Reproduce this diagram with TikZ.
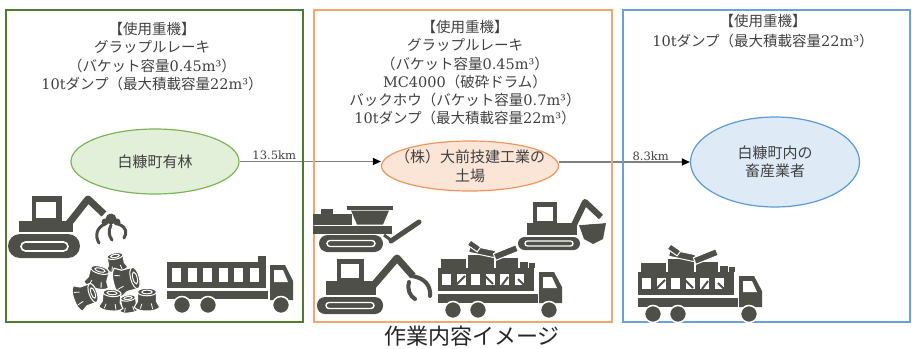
\documentclass[tikz,border=0pt]{standalone}
\usepackage{fontspec}
\setmainfont{DejaVu Serif}
\newfontfamily\jpfont{Noto Sans CJK JP}
\usetikzlibrary{shapes.geometric,arrows.meta}
\newcommand\jp[1]{{\jpfont #1}}

\definecolor{grnline}{HTML}{4F7A34}
\definecolor{orgline}{HTML}{F4A470}
\definecolor{bluline}{HTML}{6A9FD8}
\definecolor{grnfill}{HTML}{E2F0D9}
\definecolor{grnedge}{HTML}{7DB356}
\definecolor{orgfill}{HTML}{FBE5D6}
\definecolor{orgedge}{HTML}{F0955A}
\definecolor{blufill}{HTML}{DEEBF7}
\definecolor{bluedge}{HTML}{5B9BD5}
\definecolor{ic}{HTML}{4E4F48}
\definecolor{txt}{HTML}{404040}
\definecolor{arr}{HTML}{808080}

% one tree stump with flared roots: top face centred at (#1,#2), turned by #3, sized by #4
\newcommand\stump[4]{%
  \begin{scope}[shift={(#1,#2)}, rotate=#3, scale=#4]
    \path[fill=ic, draw=white, line width=1.1pt]
      (-1,0) -- (-1,1.0) -- (-1.35,1.6) .. controls (-1.1,1.9) and (-0.6,2.0) .. (0,2.0)
      .. controls (0.6,2.0) and (1.1,1.9) .. (1.35,1.6) -- (1,1.0) -- (1,0)
      .. controls (1,-0.22) and (0.55,-0.4) .. (0,-0.4)
      .. controls (-0.55,-0.4) and (-1,-0.22) .. (-1,0) -- cycle;
    \draw[white, line width=1pt] (0,0) ellipse (0.55 and 0.2);
    \draw[white, line width=1pt] (-1,0) .. controls (-1,0.22) and (-0.55,0.4) .. (0,0.4)
      .. controls (0.55,0.4) and (1,0.22) .. (1,0);
    \draw[white, line width=0.8pt] (-0.55,1.25) -- (-0.7,1.75) (0.45,1.2) -- (0.6,1.8);
  \end{scope}}

\tikzset{
  panel/.style={line width=1.5pt},
  boxtext/.style={align=center, inner sep=0pt, text=txt,
    font=\fontsize{14.5}{18.3}\selectfont},
  site/.style={ellipse, line width=1.2pt, inner sep=0pt},
  sitetext/.style={align=center, inner sep=0pt, text=txt,
    font=\jpfont\fontsize{15}{18.5}\selectfont},
  route/.style={draw=arr, line width=1.2pt,
    -{Triangle[length=8pt,width=7pt,color=black]}},
  dist/.style={text=txt, inner sep=1pt, font=\fontsize{11.5}{13}\selectfont},
  wheel/.style={fill=ic, draw=white, line width=1.5pt},
  % dump truck carrying debris, origin at top left of the load
  loadtruck/.pic={
    \fill[ic] (0,25) rectangle (96,48);
    \foreach \i in {0,...,5}
      \fill[white] ({4+14.5*\i},31) rectangle ({13+14.5*\i},42);
    \draw[ic, line width=2pt] (18,42) -- (27,33);
    \draw[ic, line width=2pt] (47,33) -- (55,41);
    \draw[ic, line width=2pt] (64,42) -- (70,34);
    \draw[ic, line width=2pt] (80,36) -- (86,42);
    \fill[ic] (3,16) rectangle (28,25);
    \fill[ic] (30,12) rectangle (56,25);
    \fill[ic] (58,15) rectangle (80,25);
    \fill[ic] (82,19) rectangle (90,25);
    \fill[ic] (91,20) rectangle (97,25);
    \fill[ic, draw=white, line width=1pt, rotate around={-12:(44,9)}] (31,5) rectangle (57,12);
    \fill[ic, draw=white, line width=1pt, rotate around={22:(68,10)}] (56,6) rectangle (80,13);
    \fill[ic, draw=white, line width=1pt, rotate around={-35:(36,3)}] (30,0) rectangle (42,6);
    \fill[ic] (0,51) rectangle (100,60);
    \fill[ic] (101,29) -- (116,29) -- (124,44) -- (124,60) -- (101,60) -- cycle;
    \fill[white] (105,34) -- (114,34) -- (119,45) -- (105,45) -- cycle;
    \path[wheel] (15,67) circle (8.5);
    \path[wheel] (40,67) circle (8.5);
    \path[wheel] (111,67) circle (8.5);
  }
}

\begin{document}
\begin{tikzpicture}[x=1pt,y=-1pt]
\useasboundingbox (0,0) rectangle (912,348);

% ---------- sites and routes ----------
\node[site, draw=grnedge, fill=grnfill, minimum width=168pt, minimum height=65pt] (g) at (155,161.5) {};
\node[site, draw=orgedge, fill=orgfill, minimum width=177pt, minimum height=50pt] (o) at (470,166) {};
\node[site, draw=bluedge, fill=blufill, minimum width=169pt, minimum height=90pt] (b) at (775,162) {};

\node[sitetext] (gt) at (g) {白糠町有林};
\node[sitetext] (ot) at (470,166) {（株）大前技建工業の\\土場};
\node[sitetext] (bt) at (b) {白糠町内の\\畜産業者};

\draw[route] (g.east) -- (o.west |- g.east) node[dist, pos=0.245, above] (d1) {13.5km};
\draw[route] (o.east |- b.west) -- (b.west) node[dist, pos=0.70, above] (d2) {8.3km};

% ---------- panels ----------
\draw[panel, grnline] (6,10) rectangle (303,322);
\draw[panel, orgline] (314,10) rectangle (612,322);
\draw[panel, bluline] (623,10) rectangle (910,322);

\node[boxtext, anchor=north] (gl) at (152,22)
  {\jp{【使用重機】}\\ \jp{グラップルレーキ}\\ \jp{（バケット容量}0.45m³\jp{）}\\
   10t\jp{ダンプ（最大積載容量}22m³\jp{）}};
\node[boxtext, anchor=north] (ol) at (465,20)
  {\jp{【使用重機】}\\ \jp{グラップルレーキ}\\ \jp{（バケット容量}0.45m³\jp{）}\\
   MC4000\jp{（破砕ドラム）}\\ \jp{バックホウ（バケット容量}0.7m³\jp{）}\\
   10t\jp{ダンプ（最大積載容量}22m³\jp{）}};
\node[boxtext, anchor=north, font=\fontsize{14.5}{20.5}\selectfont] (bl) at (763,14)
  {\jp{【使用重機】}\\ 10t\jp{ダンプ（最大積載容量}22m³\jp{）}};

% ---------- forest site: grapple excavator ----------
\fill[ic, rounded corners=12pt] (8,234) rectangle (80,258);
\draw[white, line width=1.6pt, rounded corners=4.5pt] (21,242) rectangle (68,251);
\fill[ic] (19,221) rectangle (73,232);
\fill[ic] (32,196) rectangle (62,221);
\fill[white] (36,202) rectangle (56,218);
\draw[ic, line width=7pt, line join=round] (66,227) -- (88,199) -- (104,214);
\fill[ic] (111,219) circle (5.5);
\fill[ic] (105,222) circle (3.5);
\fill[ic] (117,222) circle (3.5);
\draw[ic, line width=3pt, line cap=round] (105,224) .. controls (96,228) and (95,236) .. (99,243);
\draw[ic, line width=3pt, line cap=round] (111,225) .. controls (108,231) and (109,236) .. (112,240);
\draw[ic, line width=3pt, line cap=round] (118,224) .. controls (127,227) and (127,233) .. (124,238);

% ---------- forest site: stumps ----------
\stump{115}{256}{10}{8}
\stump{100}{270}{-15}{9.5}
\stump{135}{278}{-75}{11}
\stump{93}{293}{-70}{10}
\stump{128}{298}{8}{7.5}
\stump{112}{293}{-5}{9}
\stump{147}{292}{0}{9.5}

% ---------- forest site: dump truck ----------
\fill[ic] (167,262) rectangle (266,288);
\foreach \i in {0,...,5}
  \fill[white] ({172+15.5*\i},268) rectangle ({181+15.5*\i},282);
\fill[ic] (258,256) rectangle (266,262);
\fill[ic] (167,291) rectangle (268,299);
\fill[ic] (270,265) -- (285,265) -- (293,281) -- (293,300) -- (270,300) -- cycle;
\fill[white] (274,270) -- (283,270) -- (288,282) -- (274,282) -- cycle;
\path[wheel] (182,305) circle (8.5);
\path[wheel] (208,305) circle (8.5);
\path[wheel] (281,305) circle (8.5);

% ---------- yard: drum crusher ----------
\fill[ic, rounded corners=8.5pt] (319,235) rectangle (383,252);
\draw[white, line width=1.4pt, rounded corners=3pt] (327,240.5) rectangle (375,246.5);
\fill[ic] (313,226) rectangle (392,233.5);
\fill[ic] (313,214) rectangle (352,224.5);
\fill[ic] (321,209) rectangle (333,214);
\fill[ic] (347,205.5) rectangle (393,209.5);
\fill[ic] (351,210.5) -- (389,210.5) -- (383,224.5) -- (357,224.5) -- cycle;
\draw[ic, line width=3pt] (384,235) -- (392,241);
\draw[ic, line width=5pt, line cap=round] (391,241) -- (419,222);

% ---------- yard: grapple excavator ----------
\fill[ic, rounded corners=8pt] (317,297) rectangle (383,314);
\draw[white, line width=1.4pt, rounded corners=3pt] (326,302.5) rectangle (374,308.5);
\fill[ic] (326,281) rectangle (376,295);
\fill[ic] (337,259) rectangle (364,281);
\fill[white] (341,264) rectangle (359,278);
\draw[ic, line width=7pt, line join=round] (372,287) -- (397,258) -- (413,276);
\draw[ic, line width=4pt, line cap=round] (412,276) .. controls (425,278) and (431,286) .. (430,296);
\draw[ic, line width=4pt, line cap=round] (409,282) .. controls (407,290) and (410,296) .. (415,299);

% ---------- yard: backhoe ----------
\fill[ic, rounded corners=6.5pt] (518,237) rectangle (580,250);
\draw[white, line width=1.3pt, rounded corners=2.5pt] (525,241) rectangle (573,246);
\fill[ic] (527,223) rectangle (577,235);
\fill[ic] (533,202) rectangle (557,223);
\fill[white] (537,207) rectangle (553,221);
\draw[ic, line width=6pt, line join=round] (572,229) -- (585,202) -- (601,217);
\fill[ic] (579,225) -- (606,223) -- (603,239) -- (593,244) -- (584,239) -- cycle;
\draw[white, line width=1pt] (579,224.5) -- (606,222.5);

% ---------- loaded dump trucks ----------
\pic at (438,243) {loadtruck};
\pic at (638,247) {loadtruck};

% ---------- caption ----------
\node[text=black!85, inner sep=0pt, font=\jpfont\fontsize{22}{25}\selectfont] (cap) at (472,336) {作業内容イメージ};
\end{tikzpicture}
\end{document}
